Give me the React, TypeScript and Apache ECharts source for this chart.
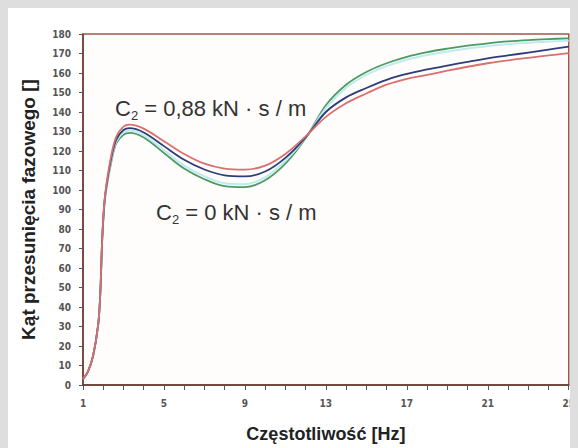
import React, { useEffect, useRef } from "react";
import * as echarts from "echarts";

const freq = [1, 1.25, 1.5, 1.75, 1.85, 1.95, 2.05, 2.15, 2.4, 2.65, 3.0, 3.3, 4, 5, 6, 7, 8, 9, 10, 11, 12, 13, 14, 15, 16, 17, 18, 19, 20, 21, 22, 23, 24, 25];
const red = [3, 7, 15, 31, 46, 75, 93, 102.5, 118, 127.5, 132.5, 133.5, 131.5, 125, 118.5, 113.5, 111, 110.5, 112.5, 118.5, 127.5, 137.5, 144.5, 149.5, 154, 157, 159, 161.2, 163.2, 165, 166.5, 167.8, 169, 170.2];
const blue = [3, 7, 15, 31, 46, 75, 92.5, 101.5, 116.5, 126, 130.8, 131.7, 129.5, 122.5, 115.5, 110.5, 107.5, 107, 109.5, 116.5, 127, 140, 147.5, 152.3, 156.5, 159.5, 161.8, 163.8, 165.7, 167.5, 169, 170.5, 172, 173.5];
const cyan = [3, 7, 15, 31, 46, 75, 92, 101, 115.5, 125, 129.5, 130.5, 128, 120.5, 112.5, 107, 103.5, 103, 106.5, 115, 126.8, 142, 152.5, 159, 163.5, 166.8, 169.2, 171, 172.6, 173.8, 174.8, 175.5, 176.1, 176.5];
const green = [3, 7, 15, 31, 46, 75, 91.5, 100.5, 114.5, 124, 128.3, 129.3, 127, 119, 111, 105.5, 102, 101.5, 105, 113.5, 126.5, 143.5, 154, 160.5, 165, 168.3, 170.7, 172.5, 174, 175.2, 176.2, 176.9, 177.4, 177.8];

const xName = "Częstotliwość [Hz]";
const yName = "Kąt przesunięcia fazowego []";
const label1 = ["C", "2", " = 0,88 kN · s / m"];
const label2 = ["C", "2", " = 0 kN · s / m"];

const tickFont = "'Liberation Sans Narrow', 'DejaVu Sans Condensed', 'Liberation Sans', sans-serif";
const mainFont = "'Liberation Sans', Arial, sans-serif";

function pairs(vals: number[]) {
  return freq.map((f, i) => [f, vals[i]]);
}

function richText(parts: string[]) {
  return `{a|${parts[0]}}{b|${parts[1]}}{a|${parts[2]}}`;
}

const richStyle = {
  a: { fontSize: 22, fontFamily: mainFont, fill: "#333", lineHeight: 28, verticalAlign: "middle" },
  b: { fontSize: 13, fontFamily: mainFont, fill: "#333", lineHeight: 13, verticalAlign: "bottom" },
};

export default function App() {
  const ref = useRef<HTMLDivElement>(null);
  useEffect(() => {
    document.body.style.background = "#dedede";
    const chart = echarts.init(ref.current!, null, { renderer: "svg" });
    const mk = (name: string, vals: number[], color: string, width: number) => ({
      name,
      type: "line",
      data: pairs(vals),
      smooth: 0.35,
      showSymbol: false,
      symbol: "none",
      lineStyle: { color, width },
    });
    chart.setOption({
      animation: false,
      backgroundColor: "#ffffff",
      grid: {
        left: 75,
        right: 2,
        top: 26,
        bottom: 61,
        show: true,
        borderColor: "#a0574c",
        borderWidth: 1.5,
        backgroundColor: "#fffdfc",
      },
      xAxis: {
        type: "value",
        min: 1,
        max: 25,
        interval: 4,
        name: xName,
        nameLocation: "middle",
        nameGap: 40,
        nameTextStyle: { fontFamily: mainFont, fontWeight: "bold", fontSize: 18, color: "#222" },
        axisLine: { show: true, lineStyle: { color: "#5e372e", width: 1.5 } },
        axisTick: { show: true, length: 5, lineStyle: { color: "#555" } },
        minorTick: { show: true, splitNumber: 4, length: 5, lineStyle: { color: "#555" } },
        axisLabel: { fontFamily: tickFont, fontWeight: "bold", fontSize: 10, color: "#555", margin: 13 },
        splitLine: { show: false },
      },
      yAxis: {
        type: "value",
        min: 0,
        max: 180,
        interval: 10,
        name: yName,
        nameLocation: "middle",
        nameGap: 45,
        nameRotate: 90,
        nameTextStyle: { fontFamily: mainFont, fontWeight: "bold", fontSize: 19, color: "#222" },
        axisLine: { show: true, lineStyle: { color: "#6b3a30", width: 1.5 } },
        axisTick: { show: true, length: 4, lineStyle: { color: "#555" } },
        axisLabel: { fontFamily: tickFont, fontWeight: "bold", fontSize: 10, color: "#555", margin: 12 },
        splitLine: { show: false },
      },
      series: [
        mk("green", green, "#4f9a62", 1.8),
        mk("cyan", cyan, "#bdebf0", 2),
        mk("blue", blue, "#2e3d78", 1.8),
        mk("red", red, "#d9706e", 1.8),
      ],
      graphic: [
        {
          type: "text",
          left: 107,
          top: 89,
          style: { text: richText(label1), rich: richStyle },
        },
        {
          type: "text",
          left: 148,
          top: 193,
          style: { text: richText(label2), rich: richStyle },
        },
      ],
    });
    return () => chart.dispose();
  }, []);
  return <div ref={ref} style={{ width: 570, height: 440 }} />;
}
